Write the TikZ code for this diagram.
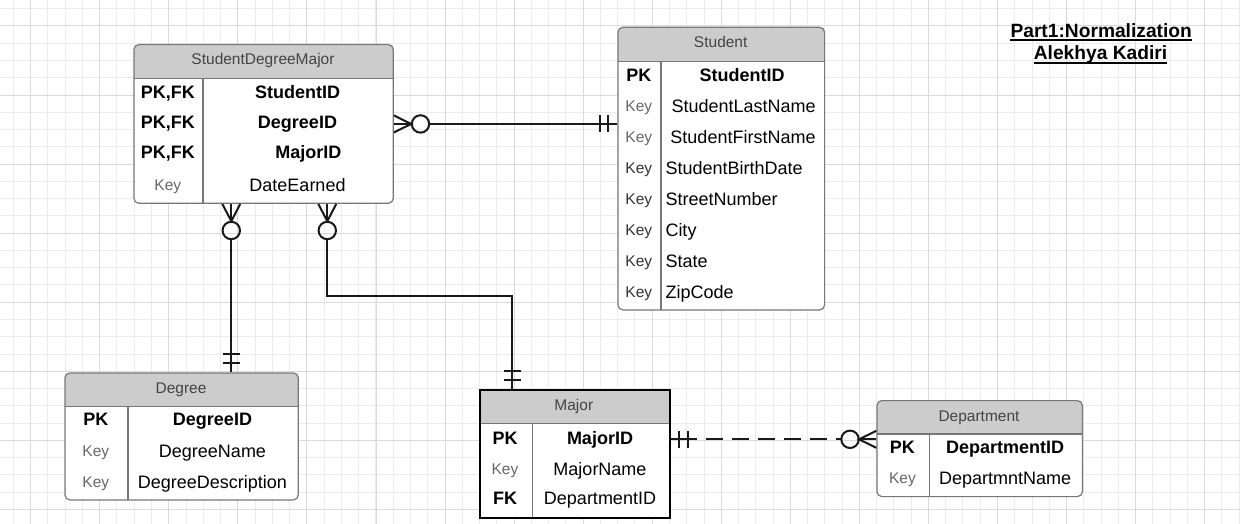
\documentclass[tikz,border=0pt]{standalone}
\usepackage{fontspec}
\setmainfont{Liberation Sans}
\usepackage{tikz}
\usetikzlibrary{calc,positioning}

\definecolor{gridminor}{HTML}{ECECEC}
\definecolor{gridmajor}{HTML}{DADADA}
\definecolor{tblgray}{HTML}{777777}
\definecolor{hdrgray}{HTML}{CCCCCC}
\definecolor{hdrtext}{HTML}{444444}
\definecolor{keygray}{HTML}{666666}
\definecolor{keydark}{HTML}{333333}

\begin{document}
\begin{tikzpicture}[x=1pt,y=-1pt,
    tbl/.style 2 args={draw=tblgray, line width=1.2pt, fill=white, rounded corners=5pt,
        anchor=north west, inner sep=0pt,
        path picture={
            \fill[hdrgray, sharp corners] (path picture bounding box.north west) rectangle ($(path picture bounding box.north east)+(0,#1)$);
            \draw[tblgray, line width=1.2pt, sharp corners] ($(path picture bounding box.north west)+(0,#1)$) -- ($(path picture bounding box.north east)+(0,#1)$);
            \draw[tblgray, line width=1.2pt, sharp corners] ($(path picture bounding box.north west)+(#2,#1)$) -- ($(path picture bounding box.south west)+(#2,0)$);
        }},
    hdr/.style={font=\fontsize{15.5}{18}\selectfont, text=hdrtext, inner sep=0pt, text height=11.1pt, text depth=0pt},
    keyb/.style={font=\fontsize{18}{20}\selectfont\bfseries, inner sep=0pt, text height=12.9pt, text depth=0pt},
    keyg/.style={font=\fontsize{15.5}{18}\selectfont, text=keygray, inner sep=0pt, text height=11.1pt, text depth=0pt},
    keyd/.style={keyg, text=keydark},
    fld/.style={font=\fontsize{18}{20}\selectfont, inner sep=0pt, text height=12.9pt, text depth=0pt},
    fldb/.style={fld, font=\fontsize{18}{20}\selectfont\bfseries},
    rel/.style={line width=2pt, draw=black!90},
    ttl/.style={font=\fontsize{19.2}{22}\selectfont\bfseries, inner sep=0pt, text depth=0pt, anchor=base},
    uline/.style={line width=1.7pt}]

        \useasboundingbox (0,0) rectangle (1240,524);
        \fill[white] (0,0) rectangle (1240,524);
        % grid
        \foreach \i in {0,...,71} \draw[gridminor, line width=1pt] ({13.4+17.265*\i},0) -- ({13.4+17.265*\i},524);
        \foreach \j in {0,...,29} \draw[gridminor, line width=1pt] (0,{8.7+17.265*\j}) -- (1240,{8.7+17.265*\j});
        \foreach \i in {0,...,17} \draw[gridmajor, line width=1pt] ({30.7+69.06*\i},0) -- ({30.7+69.06*\i},524);
        \foreach \j in {0,...,7} \draw[gridmajor, line width=1pt] (0,{26+69.06*\j}) -- (1240,{26+69.06*\j});

        % tables
        \node (sdm)[tbl={33.7}{69}, minimum width=259.4pt, minimum height=158.7pt] at (133.3,44) {};
        \node (student)[tbl={34.6}{43}, minimum width=206.7pt, minimum height=282.6pt] at (617.3,26.7) {};
        \node (degree)[tbl={33.7}{63}, minimum width=233.4pt, minimum height=127pt] at (64.3,372.3) {};
        \node (major)[tbl={33.7}{52.6}, minimum width=190.1pt, minimum height=127.7pt, draw=black, line width=2pt, sharp corners] at (478.7,389) {};
        \node (dept)[tbl={33.3}{52.2}, minimum width=205.5pt, minimum height=96pt] at (876.3,400) {};

        % StudentDegreeMajor
        \node (sdmh)[hdr] at (263,59.3) {StudentDegreeMajor};
        \node (sdmk1)[keyb] at (167.8,91.7) {PK,FK};
        \node (sdmf1)[fldb] at (297.5,91.7) {StudentID};
        \node (sdmk2)[keyb] at (167.8,121.7) {PK,FK};
        \node (sdmf2)[fldb] at (297.5,121.7) {DegreeID};
        \node (sdmk3)[keyb] at (167.8,151.7) {PK,FK};
        \node (sdmf3)[fldb] at (308.3,151.7) {MajorID};
        \node (sdmk4)[keyg] at (167.8,185) {Key};
        \node (sdmf4)[fld] at (297.5,185) {DateEarned};

        % Student
        \node (sth)[hdr] at (720.7,42.3) {Student};
        \node (stk1)[keyb] at (638.8,75) {PK};
        \node (stf1)[fldb] at (742.2,75) {StudentID};
        \node (stk2)[keyg] at (638.8,106) {Key};
        \node (stf2)[fld] at (743.7,106) {StudentLastName};
        \node (stk3)[keyg] at (638.8,136.7) {Key};
        \node (stf3)[fld] at (743,136.7) {StudentFirstName};
        \node (stk4)[keyd] at (638.8,167.7) {Key};
        \node (stf4)[fld, anchor=west] at (665.3,167.7) {StudentBirthDate};
        \node (stk5)[keyd] at (638.8,199) {Key};
        \node (stf5)[fld, anchor=west] at (665.3,199) {StreetNumber};
        \node (stk6)[keyd] at (638.8,230) {Key};
        \node (stf6)[fld, anchor=west] at (665.3,230) {City};
        \node (stk7)[keyd] at (638.8,260.7) {Key};
        \node (stf7)[fld, anchor=west] at (665.3,260.7) {State};
        \node (stk8)[keyd] at (638.8,291.7) {Key};
        \node (stf8)[fld, anchor=west] at (665.3,291.7) {ZipCode};

        % Degree
        \node (dgh)[hdr] at (181,387.7) {Degree};
        \node (dgk1)[keyb] at (95.8,419.3) {PK};
        \node (dgf1)[fldb] at (212.5,419.3) {DegreeID};
        \node (dgk2)[keyg] at (95.8,450.7) {Key};
        \node (dgf2)[fld] at (212.5,450.7) {DegreeName};
        \node (dgk3)[keyg] at (95.8,482.3) {Key};
        \node (dgf3)[fld] at (212.5,482.3) {DegreeDescription};

        % Major
        \node (mjh)[hdr] at (573.8,405) {Major};
        \node (mjk1)[keyb] at (505,437.7) {PK};
        \node (mjf1)[fldb] at (600,437.7) {MajorID};
        \node (mjk2)[keyg] at (505,469) {Key};
        \node (mjf2)[fld] at (600,469) {MajorName};
        \node (mjk3)[keyb] at (505,498.3) {FK};
        \node (mjf3)[fld] at (600,498.3) {DepartmentID};

        % Department
        \node (dph)[hdr] at (979,415.7) {Department};
        \node (dpk1)[keyb] at (902.4,447.3) {PK};
        \node (dpf1)[fldb] at (1005.2,447.3) {DepartmentID};
        \node (dpk2)[keyg] at (902.4,478.3) {Key};
        \node (dpf2)[fld] at (1005.2,478.3) {DepartmntName};

        % title
        \node (t1)[ttl] at (1101.2,37.3) {Part1:Normalization};
        \node (t2)[ttl] at (1100.5,60) {Alekhya Kadiri};
        \draw[uline] ($(t1.south west)+(0,2.7)$) -- ($(t1.south east)+(0,2.7)$);
        \draw[uline] ($(t2.south west)+(0,2.7)$) -- ($(t2.south east)+(0,2.7)$);

        % StudentDegreeMajor -- Student
        \draw[rel] ($(sdm.east)+(0,-8.5)$) -- ($(sdm.east)+(17.3,0)$) -- ($(sdm.east)+(0,8.5)$);
        \draw[rel] (sdm.east) -- ($(sdm.east)+(17.9,0)$);
        \draw[rel] ($(sdm.east)+(26.6,0)$) circle[radius=8.7pt];
        \draw[rel] ($(sdm.east)+(35.3,0)$) -- (sdm.east -| student.west);
        \draw[rel] ($(sdm.east -| student.west)+(-17,-8.5)$) -- ++(0,17);
        \draw[rel] ($(sdm.east -| student.west)+(-9,-8.5)$) -- ++(0,17);

        % StudentDegreeMajor -- Degree
        \coordinate (d1) at ($(sdm.south west)+(98,0)$);
        \draw[rel] ($(d1)+(-9,0)$) -- ($(d1)+(0,17.3)$) -- ($(d1)+(9,0)$);
        \draw[rel] (d1) -- ($(d1)+(0,17.9)$);
        \draw[rel] ($(d1)+(0,26.6)$) circle[radius=8.7pt];
        \draw[rel] ($(d1)+(0,35.3)$) -- (d1 |- degree.north);
        \draw[rel] ($(d1 |- degree.north)+(-8.5,-18)$) -- ++(17,0);
        \draw[rel] ($(d1 |- degree.north)+(-8.5,-9.5)$) -- ++(17,0);

        % StudentDegreeMajor -- Major
        \coordinate (j1) at ($(sdm.south west)+(194,0)$);
        \coordinate (j2) at ($(major.north west)+(33.6,0)$);
        \draw[rel] ($(j1)+(-9,0)$) -- ($(j1)+(0,17.3)$) -- ($(j1)+(9,0)$);
        \draw[rel] (j1) -- ($(j1)+(0,17.9)$);
        \draw[rel] ($(j1)+(0,26.6)$) circle[radius=8.7pt];
        \draw[rel] ($(j1)+(0,35.3)$) |- ($(j2)+(0,-93)$) -- (j2);
        \draw[rel] ($(j2)+(-8.5,-18)$) -- ++(17,0);
        \draw[rel] ($(j2)+(-8.5,-9.5)$) -- ++(17,0);

        % Major -- Department
        \coordinate (k1) at ($(major.north east)+(0,50.3)$);
        \coordinate (k2) at (k1 -| dept.west);
        \draw[rel] (k1) -- ($(k1)+(26.2,0)$);
        \draw[rel] ($(k1)+(7.9,-8.5)$) -- ++(0,17);
        \draw[rel] ($(k1)+(16.9,-8.5)$) -- ++(0,17);
        \draw[rel, dash pattern={on 17.3pt off 8.7pt}, dash phase=17.3pt] ($(k1)+(26.2,0)$) -- ($(k2)+(-35.3,0)$);
        \draw[rel] ($(k2)+(-26.3,0)$) circle[radius=8.7pt];
        \draw[rel] ($(k2)+(0,-8.5)$) -- ($(k2)+(-17.3,0)$) -- ($(k2)+(0,8.5)$);
        \draw[rel] ($(k2)+(-17.6,0)$) -- (k2);
\end{tikzpicture}
\end{document}
